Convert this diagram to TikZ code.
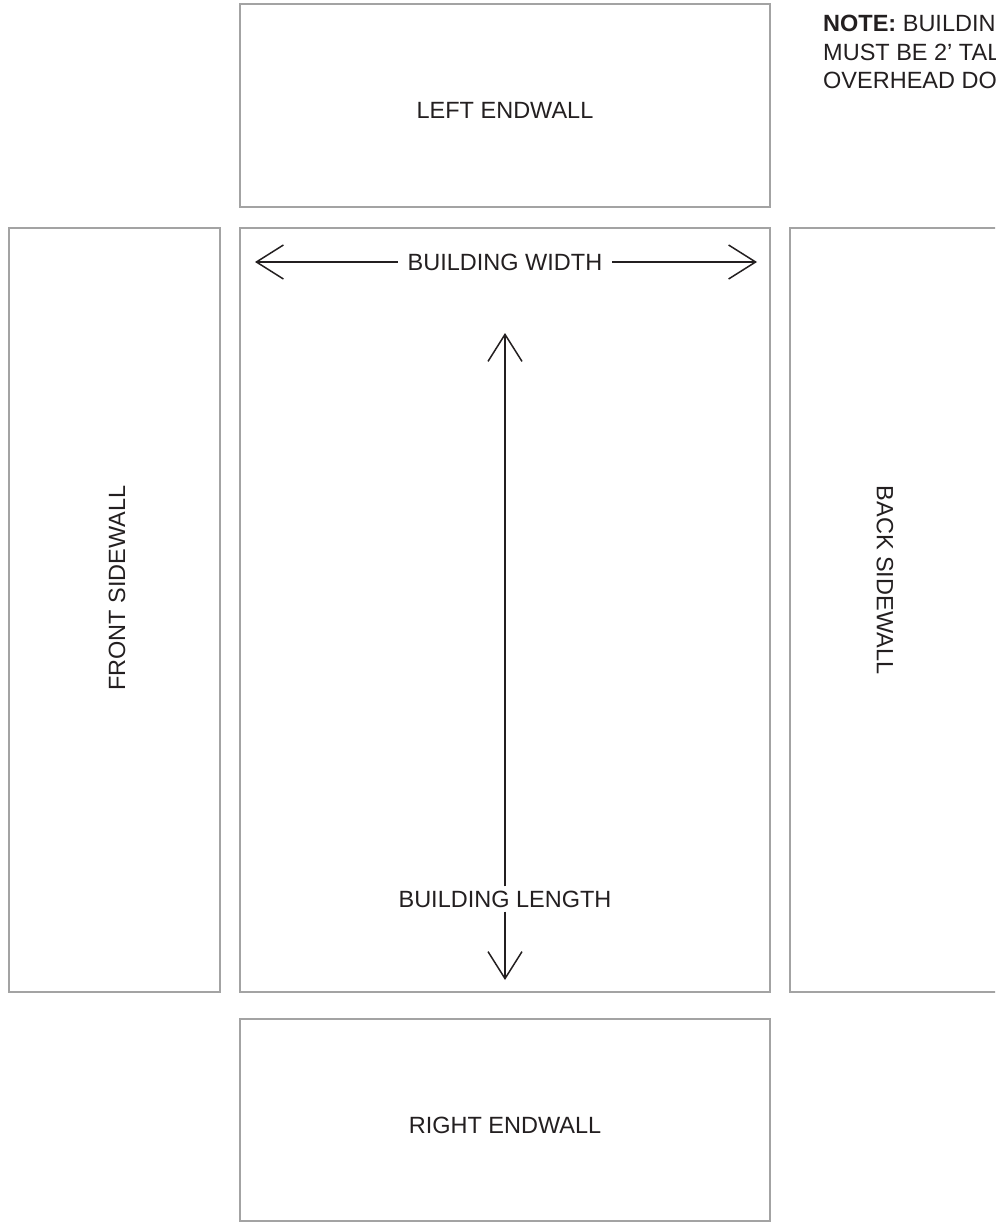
\documentclass[tikz,border=0pt]{standalone}
\usepackage{fontspec}
\setmainfont{Liberation Sans}
\usetikzlibrary{arrows.meta}

\definecolor{wallgray}{HTML}{A3A3A3}
\definecolor{ink}{HTML}{231F20}

\tikzset{
  wall/.style={draw=wallgray,line width=2pt},
  walllabel/.style={font=\fontsize{23.5}{28}\selectfont,text=ink,inner sep=0pt},
  dimline/.style={draw=ink,line width=1.5pt,-{Straight Barb[length=27pt,width=34pt,line width=1.5pt]}},
  dimlabel/.style={font=\fontsize{23.5}{28}\selectfont,text=ink,inner xsep=10pt,inner ysep=6pt}
}

\begin{document}
\begin{tikzpicture}[x=1pt,y=-1pt]
  \useasboundingbox (0,0) rectangle (995,1222);
  \clip (0,0) rectangle (995,1222);

  % walls
  \draw[wall] (240,4) rectangle (770,207);
  \draw[wall] (9,228) rectangle (220,992);
  \draw[wall] (240,228) rectangle (770,992);
  \draw[wall] (790,228) rectangle (1010,992);
  \draw[wall] (240,1019) rectangle (770,1221);

  % wall names
  \node[walllabel] (leftend) at (505,110) {LEFT ENDWALL};
  \node[walllabel] (rightend) at (505,1125) {RIGHT ENDWALL};
  \node[walllabel,rotate=90] (frontside) at (117,588) {FRONT SIDEWALL};
  \node[walllabel,rotate=-90] (backside) at (885,580) {BACK SIDEWALL};

  % dimensions
  \coordinate (wl) at (255,262);
  \coordinate (wr) at (757,262);
  \node[dimlabel] (width) at (505,262) {BUILDING WIDTH};
  \draw[dimline] (width) -- (wl);
  \draw[dimline] (width) -- (wr);

  \coordinate (lt) at (505,333);
  \coordinate (lb) at (505,980);
  \node[dimlabel,inner ysep=4pt] (length) at (505,899) {BUILDING LENGTH};
  \draw[dimline] (length) -- (lt);
  \draw[dimline] (length) -- (lb);

  % note
  \node[walllabel,anchor=base west] (note1) at (823,32) {\textbf{NOTE:} BUILDIN};
  \node[walllabel,anchor=base west] (note2) at (823,60.5) {MUST BE 2’ TAL};
  \node[walllabel,anchor=base west] (note3) at (823,89) {OVERHEAD DO};
\end{tikzpicture}
\end{document}
